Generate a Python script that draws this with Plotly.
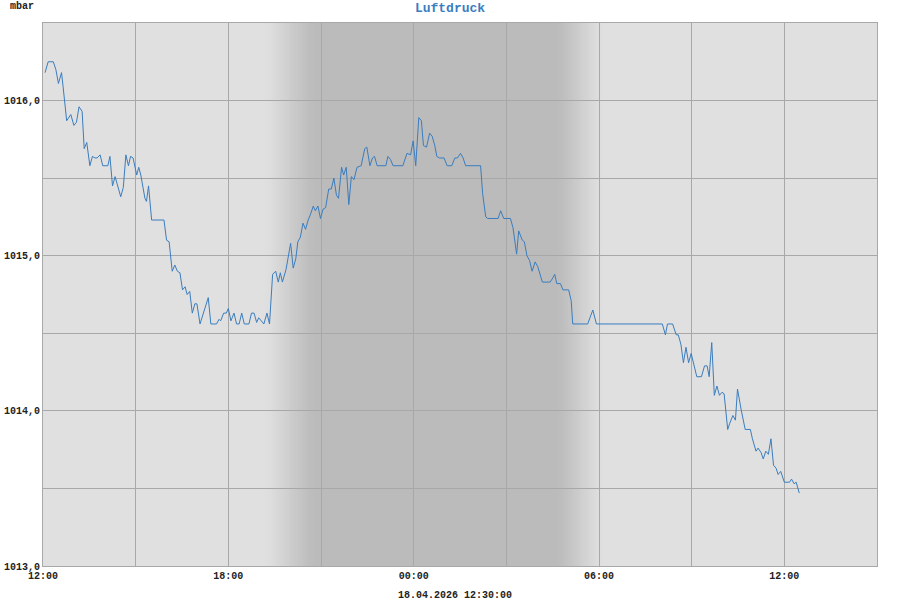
import pandas as pd
import numpy as np
import plotly.graph_objects as go

# pressure readings, minutes after 17.04.2026 12:00
start = pd.Timestamp("2026-04-17 12:00")
minutes = [
    4, 10, 20, 25, 30, 36, 39, 46, 54, 60, 65, 70, 76, 80, 85, 91, 96, 101, 105, 111,
    116, 126, 130, 135, 140, 151, 156, 161, 166, 170, 175, 182, 186, 190, 198, 201, 205, 211, 235, 240,
    245, 251, 256, 261, 266, 271, 276, 280, 285, 290, 295, 299, 305, 311, 321, 326, 337, 342, 345, 351,
    356, 360, 365, 371, 376, 381, 386, 391, 400, 405, 410, 415, 419, 424, 429, 435, 440, 446, 452, 457,
    461, 465, 472, 481, 486, 491, 495, 500, 505, 510, 515, 520, 525, 529, 534, 539, 544, 549, 555, 560,
    565, 570, 574, 580, 584, 589, 594, 599, 604, 610, 618, 625, 629, 635, 640, 644, 649, 666, 670, 675,
    680, 699, 707, 714, 719, 724, 730, 735, 739, 745, 751, 756, 761, 765, 770, 779, 785, 794, 800, 805,
    811, 816, 821, 850, 854, 860, 864, 884, 889, 895, 908, 913, 920, 924, 931, 935, 940, 945, 950, 956,
    961, 970, 976, 981, 985, 989, 994, 998, 1005, 1010, 1016, 1021, 1026, 1029, 1058, 1068, 1075, 1203, 1209, 1213,
    1223, 1230, 1234, 1239, 1244, 1249, 1254, 1259, 1270, 1279, 1285, 1290, 1294, 1299, 1304, 1309, 1314, 1319, 1323, 1330,
    1334, 1340, 1345, 1349, 1356, 1364, 1374, 1378, 1385, 1389, 1395, 1399, 1404, 1409, 1414, 1419, 1424, 1428, 1433, 1440,
    1450, 1454, 1459, 1463, 1469,
]
pressure = [
    1016.18, 1016.25, 1016.25, 1016.20, 1016.11, 1016.18, 1016.09, 1015.87, 1015.91, 1015.84,
    1015.86, 1015.96, 1015.93, 1015.69, 1015.73, 1015.58, 1015.64, 1015.63, 1015.63, 1015.65,
    1015.58, 1015.58, 1015.64, 1015.45, 1015.51, 1015.38, 1015.44, 1015.65, 1015.58, 1015.64,
    1015.63, 1015.52, 1015.57, 1015.52, 1015.37, 1015.35, 1015.45, 1015.23, 1015.23, 1015.10,
    1015.09, 1014.90, 1014.94, 1014.90, 1014.89, 1014.78, 1014.80, 1014.75, 1014.77, 1014.63,
    1014.69, 1014.69, 1014.56, 1014.63, 1014.73, 1014.56, 1014.56, 1014.59, 1014.58, 1014.63,
    1014.63, 1014.66, 1014.58, 1014.63, 1014.56, 1014.56, 1014.63, 1014.56, 1014.56, 1014.63,
    1014.63, 1014.57, 1014.60, 1014.58, 1014.56, 1014.63, 1014.56, 1014.88, 1014.90, 1014.83,
    1014.89, 1014.83, 1014.91, 1015.08, 1014.92, 1014.98, 1015.09, 1015.12, 1015.21, 1015.17,
    1015.23, 1015.27, 1015.32, 1015.29, 1015.32, 1015.24, 1015.30, 1015.31, 1015.43, 1015.43,
    1015.50, 1015.39, 1015.37, 1015.57, 1015.52, 1015.57, 1015.33, 1015.51, 1015.49, 1015.57,
    1015.58, 1015.69, 1015.70, 1015.58, 1015.63, 1015.64, 1015.58, 1015.58, 1015.64, 1015.62,
    1015.58, 1015.58, 1015.66, 1015.65, 1015.74, 1015.58, 1015.89, 1015.87, 1015.71, 1015.70,
    1015.79, 1015.77, 1015.71, 1015.64, 1015.63, 1015.63, 1015.58, 1015.58, 1015.63, 1015.63,
    1015.66, 1015.63, 1015.58, 1015.58, 1015.40, 1015.25, 1015.24, 1015.24, 1015.29, 1015.24,
    1015.24, 1015.18, 1015.01, 1015.16, 1015.10, 1015.09, 1015.00, 1014.97, 1014.90, 1014.96,
    1014.93, 1014.83, 1014.83, 1014.83, 1014.83, 1014.85, 1014.88, 1014.82, 1014.82, 1014.78,
    1014.78, 1014.78, 1014.71, 1014.56, 1014.56, 1014.65, 1014.56, 1014.56, 1014.49, 1014.56,
    1014.56, 1014.49, 1014.49, 1014.43, 1014.31, 1014.41, 1014.31, 1014.37, 1014.22, 1014.22,
    1014.29, 1014.29, 1014.22, 1014.44, 1014.10, 1014.16, 1014.10, 1014.12, 1014.11, 1013.88,
    1013.92, 1013.97, 1013.94, 1014.14, 1014.01, 1013.88, 1013.88, 1013.82, 1013.74, 1013.76,
    1013.73, 1013.69, 1013.74, 1013.72, 1013.82, 1013.65, 1013.63, 1013.59, 1013.61, 1013.54,
    1013.54, 1013.56, 1013.53, 1013.54, 1013.47,
]

y_ticks = [1013.0, 1013.5, 1014.0, 1014.5, 1015.0, 1015.5, 1016.0, 1016.5]
y_labels = ["1013,0", "", "1014,0", "", "1015,0", "", "1016,0", ""]
x_ticks_h = [0, 3, 6, 9, 12, 15, 18, 21, 24, 27]
x_labels = ["12:00", "", "18:00", "", "00:00", "", "06:00", "", "12:00", ""]

# night (dark band) with soft edges, hours after start
dusk = (7.0, 9.0)
dawn = (16.5, 18.3)

times = start + pd.to_timedelta(minutes, unit="m")
fig = go.Figure()
fig.add_trace(go.Scatter(x=times, y=pressure, mode="lines",
                         line=dict(color="#3a7dbf", width=1), hoverinfo="skip"))

light = np.array([224, 224, 224])
dark = np.array([187, 187, 187])
def grey(f):
    c = (light + (dark - light) * f).round().astype(int)
    return f"rgb({c[0]},{c[1]},{c[2]})"

def hrs(h):
    return start + pd.Timedelta(hours=h)

# solid night first, gradient strips on top with small overlaps to avoid seams
shapes = [dict(type="rect", xref="x", yref="paper", x0=hrs(dusk[1] - 0.1), x1=hrs(dawn[0] + 0.1),
               y0=0, y1=1, fillcolor=grey(1), line_width=0, layer="below")]
steps = 24
for a, b, rising in (dusk + (True,), dawn + (False,)):
    edges = np.linspace(a, b, steps + 1)
    for i in range(steps):
        u = (i + 0.5) / steps
        f = u * u * (3 - 2 * u)
        if not rising:
            f = 1 - f
        x0, x1 = edges[i], edges[i + 1]
        if rising:
            x1 += 0.03
        else:
            x0 -= 0.03
        shapes.append(dict(type="rect", xref="x", yref="paper", x0=hrs(x0), x1=hrs(x1),
                           y0=0, y1=1, fillcolor=grey(f), line_width=0, layer="below"))

mono = "Liberation Mono"
fig.update_layout(
    width=900, height=600,
    margin=dict(l=43, r=23, t=23, b=34, autoexpand=False),
    paper_bgcolor="white", plot_bgcolor="#e0e0e0",
    showlegend=False,
    shapes=shapes,
    title=dict(text="Luftdruck", x=0.5, xanchor="center", y=0.987, yanchor="middle",
               font=dict(family=mono, size=13, color="#3a7dbf", weight="bold"), automargin=False),
    annotations=[
        dict(text="mbar", xref="paper", yref="paper", x=-0.042, y=1.031, xanchor="left",
             yanchor="middle", showarrow=False, font=dict(family=mono, size=10, color="#222", weight="bold")),
        dict(text="18.04.2026 12:30:00", xref="paper", yref="paper", x=0.494, y=-0.055,
             xanchor="center", yanchor="middle", showarrow=False,
             font=dict(family=mono, size=10, color="#222", weight="bold")),
    ],
)
fig.update_xaxes(
    range=[start, hrs(27)], automargin=False,
    tickvals=[hrs(h) for h in x_ticks_h], ticktext=x_labels,
    showgrid=True, gridcolor="#a8a8a8", gridwidth=1,
    showline=True, linecolor="#a8a8a8", mirror=True, zeroline=False,
    ticks="", tickfont=dict(family=mono, size=10, color="#222", weight="bold"),
)
fig.update_yaxes(
    range=[1013.0, 1016.5], tickvals=y_ticks, ticktext=y_labels, automargin=False,
    showgrid=True, gridcolor="#a8a8a8", gridwidth=1,
    showline=True, linecolor="#a8a8a8", mirror=True, zeroline=False,
    ticks="", tickfont=dict(family=mono, size=10, color="#222", weight="bold"),
)

# page margin off so the 900x600 figure fills the window
fig.write_html("out.html", config={"displayModeBar": False},
               post_script="document.body.style.margin='0';")
